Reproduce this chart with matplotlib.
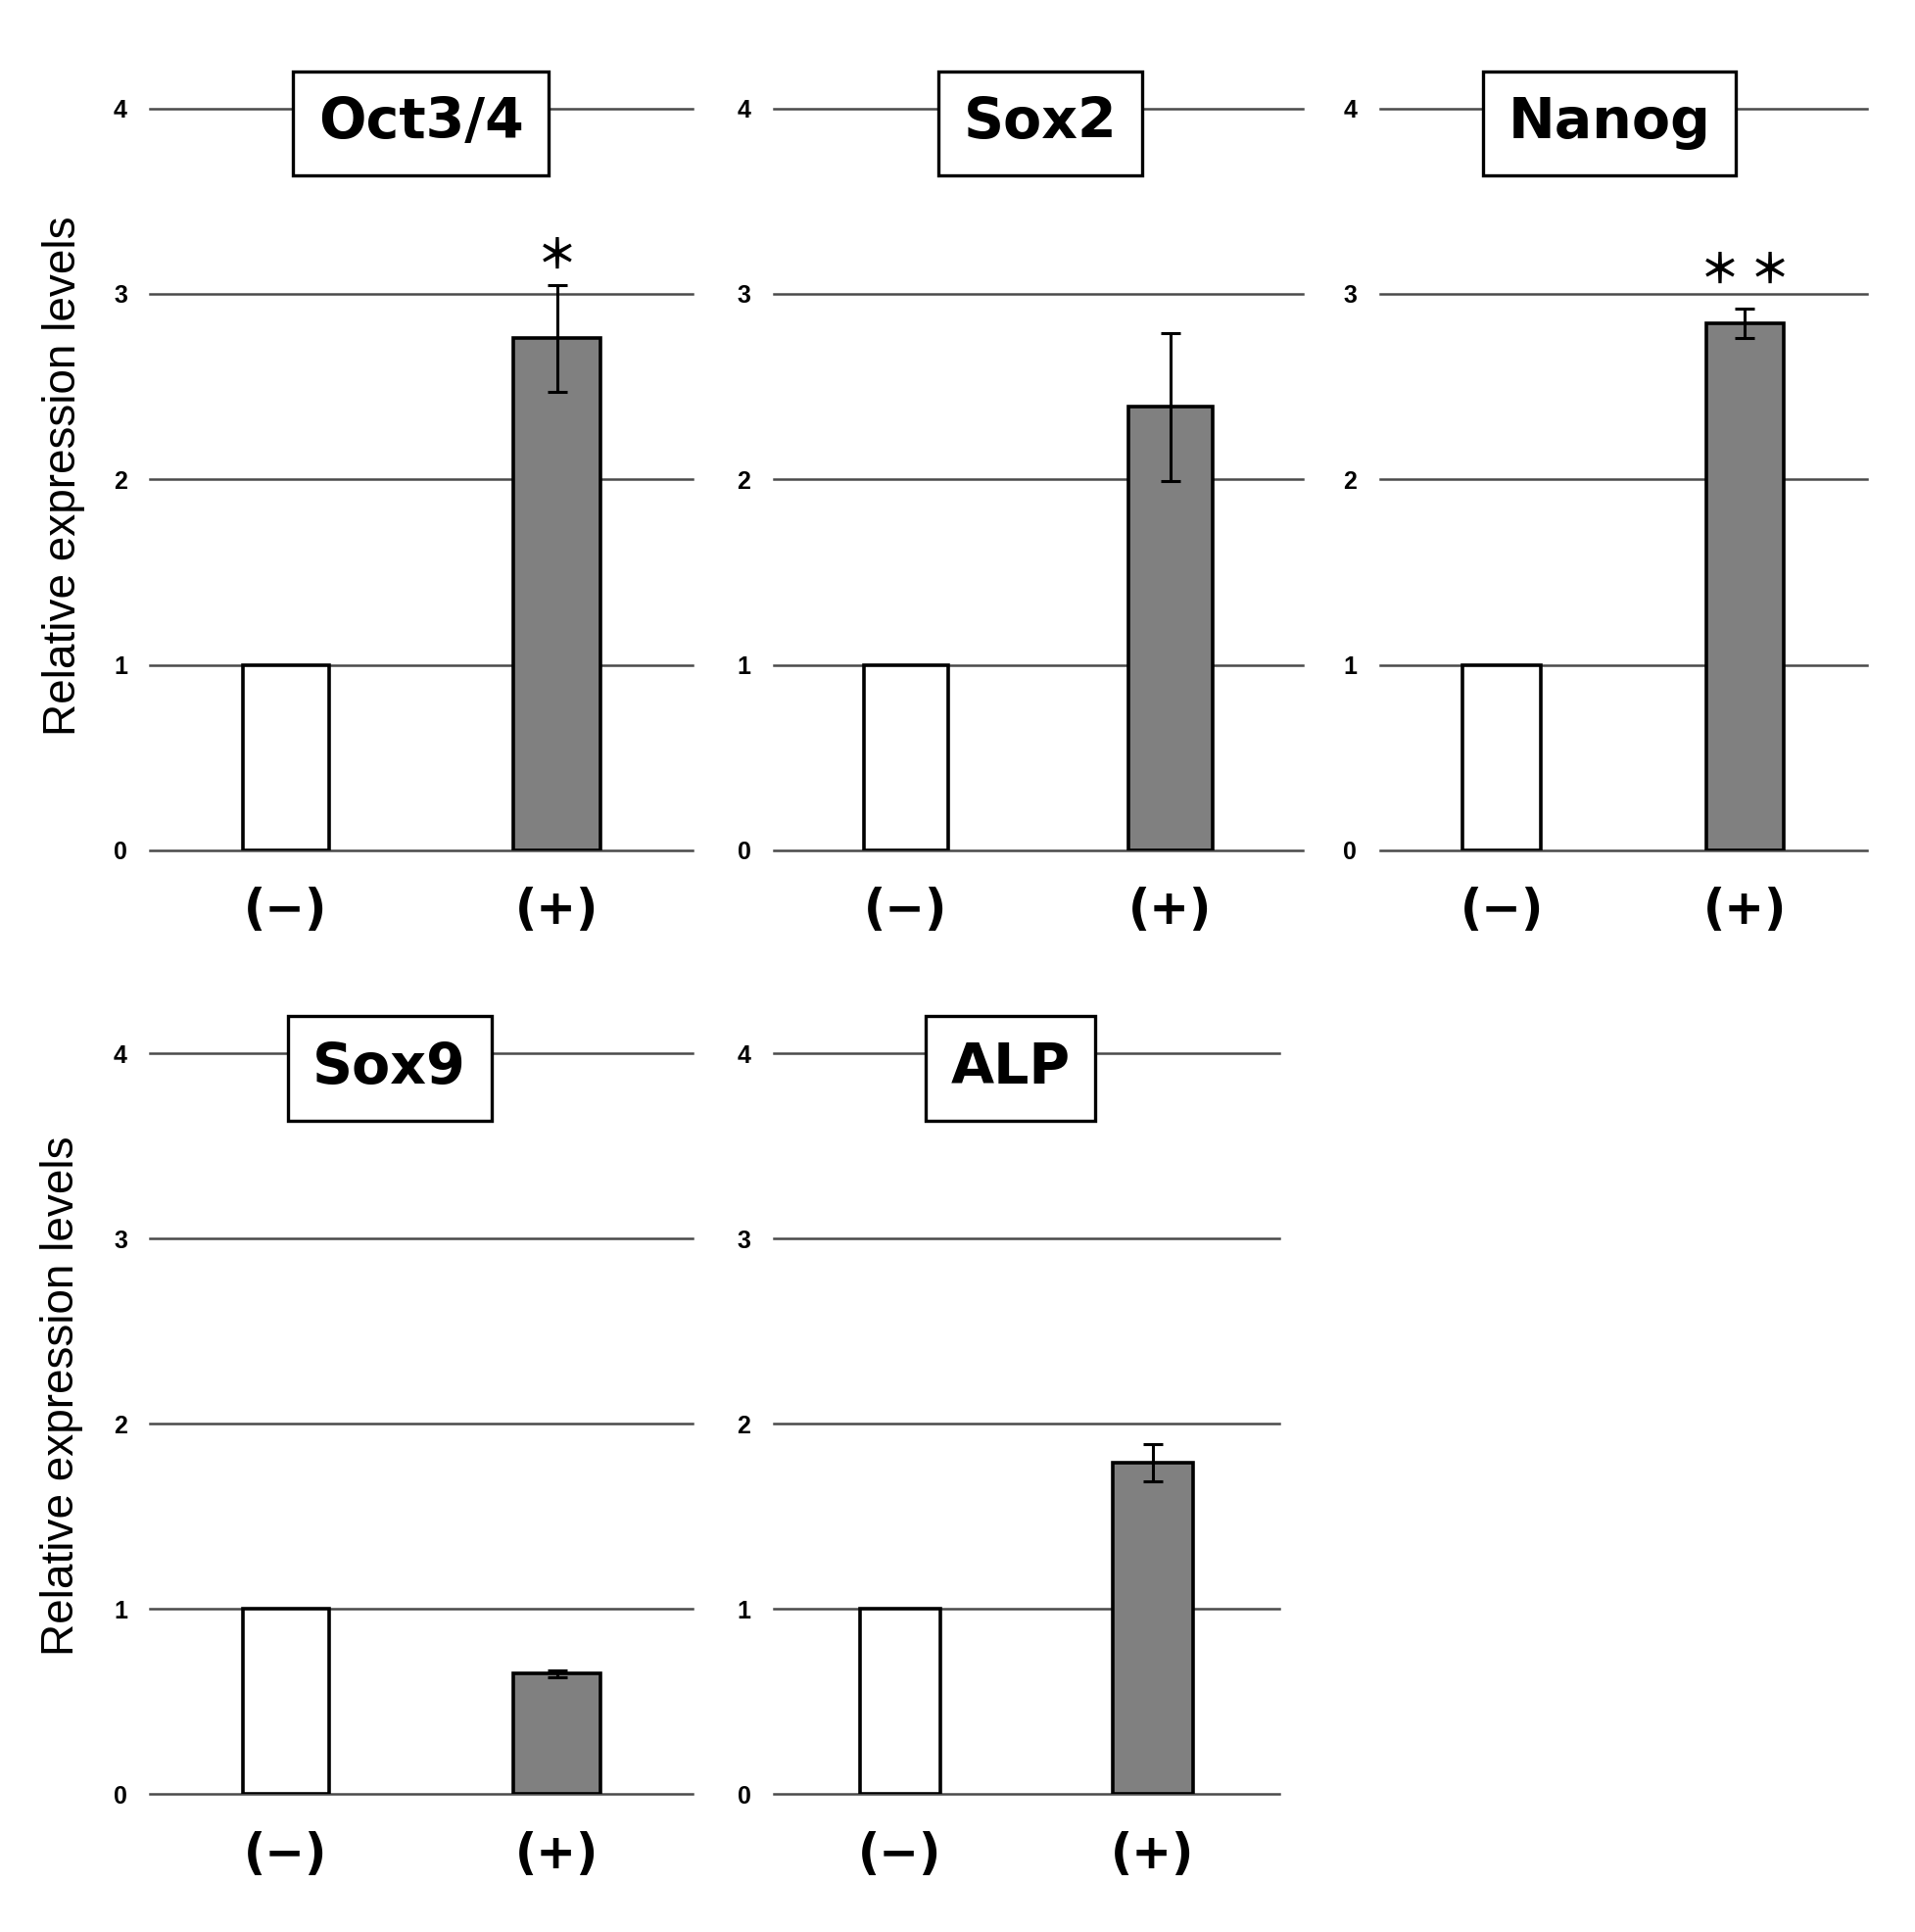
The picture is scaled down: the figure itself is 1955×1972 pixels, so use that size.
import matplotlib.pyplot as plt

# Relative expression data (control = 1)
genes = ['Oct3/4', 'Sox2', 'Nanog', 'Sox9', 'ALP']
groups = ['(−)', '(+)']
ctrl_values = [1.0, 1.0, 1.0, 1.0, 1.0]
treat_values = [2.76, 2.39, 2.84, 0.65, 1.79]
treat_errors = [0.29, 0.40, 0.08, 0.02, 0.10]
stars = ['＊', '', '＊ ＊', '', '']
star_heights = [3.20, None, 3.12, None, None]
yticks = [0, 1, 2, 3, 4]

# layout in pixels (left, right, top, bottom) on a 1956x1972 canvas
W, H = 1956, 1972
panel_px = [
    (153.5, 707, 110.7, 867.8),
    (790, 1329.6, 110.7, 867.8),
    (1408.8, 1905.7, 110.7, 867.8),
    (153.5, 707, 1075.4, 1831.2),
    (790, 1305.7, 1075.4, 1831.2),
]
title_x = [0.499, 0.505, 0.472, 0.441, 0.468]

fig = plt.figure(figsize=(W / 100, H / 100), dpi=100)
fig.patch.set_facecolor('white')

for i, gene in enumerate(genes):
    l, r, t, b = panel_px[i]
    ax = fig.add_axes([l / W, 1 - b / H, (r - l) / W, (b - t) / H])
    ax.set_xlim(-0.5, 1.5)
    ax.set_ylim(0, 4)
    for s in ax.spines.values():
        s.set_visible(False)

    for y in yticks:
        ax.axhline(y, color='#4a4a4a', lw=1.8, zorder=1, clip_on=False)

    ax.bar([0, 1], [ctrl_values[i], treat_values[i]], width=0.32,
           color=['white', '#808080'], edgecolor='black', linewidth=2.6, zorder=3)
    ax.errorbar(1, treat_values[i], yerr=treat_errors[i], fmt='none',
                ecolor='black', elinewidth=2.2, capsize=7, capthick=2.2, zorder=4)

    if stars[i]:
        ax.text(1, star_heights[i], stars[i],
                ha='center', va='center', fontsize=30, fontweight='bold',
                family=['Noto Sans CJK JP', 'DejaVu Sans'], zorder=5)

    ax.text(-0.5 + 2 * title_x[i], 3.92, gene,
            ha='center', va='center', fontsize=41, fontweight='bold',
            family='DejaVu Sans', zorder=6,
            bbox=dict(boxstyle='square,pad=0.45', fc='white', ec='black', lw=2.4))

    ax.set_yticks(yticks)
    ax.set_yticklabels([str(v) for v in yticks], fontsize=18, fontweight='bold',
                       family='Liberation Sans')
    ax.set_xticks([0, 1])
    ax.set_xticklabels(groups, fontsize=35, fontweight='bold', family='DejaVu Sans')
    ax.tick_params(axis='y', length=0, pad=17)
    ax.tick_params(axis='x', length=0, pad=27)

# shared y labels for each row
fig.text(65 / W, 1 - 486 / H, 'Relative expression levels', rotation=90,
         ha='center', va='center', fontsize=33, family='Liberation Sans')
fig.text(63 / W, 1 - 1425 / H, 'Relative expression levels', rotation=90,
         ha='center', va='center', fontsize=33, family='Liberation Sans')

fig.savefig('out.png', dpi=100, facecolor='white')
